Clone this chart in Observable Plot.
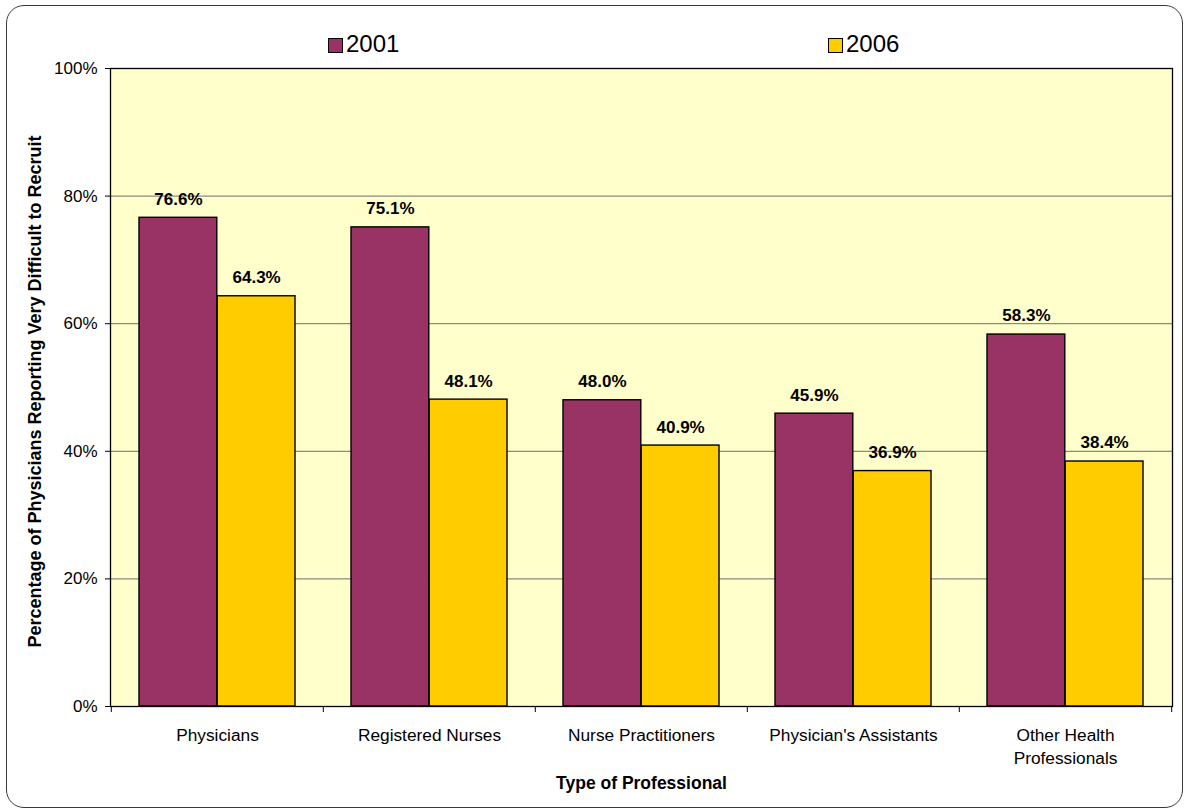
<!DOCTYPE html>
<html>
<head>
<meta charset="utf-8">
<script src="https://cdn.jsdelivr.net/npm/d3@7"></script>
<script src="https://cdn.jsdelivr.net/npm/@observablehq/plot@0.6"></script>
<style>
  html, body { margin: 0; padding: 0; background: #ffffff; }
  #wrap { position: relative; width: 1186px; height: 809px; overflow: hidden; font-family: "Liberation Sans", Arial, sans-serif; }
  #border { position: absolute; left: 6px; top: 5px; width: 1175px; height: 801px; border: 1.5px solid #3a3a3a; border-radius: 18px; pointer-events: none; }
  .sw { position: absolute; width: 13px; height: 13px; border: 1px solid #000; }
  .lt { position: absolute; font-size: 24px; line-height: 24px; color: #000; }
  #chart { position: absolute; left: 0; top: 0; }
</style>
</head>
<body>
<div id="wrap">
  <div id="border"></div>
  <div id="chart"></div>
  <div id="legend"></div>
</div>
<script>
// ---- data ----
const categories = ["Physicians", "Registered Nurses", "Nurse Practitioners", "Physician's Assistants", "Other Health\nProfessionals"];
const values2001 = [76.6, 75.1, 48.0, 45.9, 58.3];
const values2006 = [64.3, 48.1, 40.9, 36.9, 38.4];
const years = ["2001", "2006"];
const colors = ["#993366", "#FFCC00"];
const yTicks = [0, 20, 40, 60, 80, 100];
const yLabel = "Percentage of Physicians Reporting Very Difficult to Recruit";
const xLabel = "Type of Professional";

// ---- layout ----
const W = 1186, H = 809;
const mL = 110, mR = 14, mT = 68, mB = 103;
const bw = (W - mL - mR) / categories.length;
const gap = 28;
const barW = (bw - 2 * gap) / 2;

const rows2001 = categories.map((c, i) => ({category: c, value: values2001[i]}));
const rows2006 = categories.map((c, i) => ({category: c, value: values2006[i]}));
const fmt = d => d.value.toFixed(1) + "%";

const chart = Plot.plot({
  width: W,
  height: H,
  marginLeft: mL,
  marginRight: mR,
  marginTop: mT,
  marginBottom: mB,
  style: {fontFamily: "'Liberation Sans', Arial, sans-serif", fontSize: "17px", background: "transparent", overflow: "visible", color: "#000"},
  x: {type: "band", domain: categories, paddingInner: 0, paddingOuter: 0},
  y: {domain: [0, 100]},
  marks: [
    Plot.frame({fill: "#FFFFCC"}),
    Plot.ruleY(yTicks.slice(1, -1), {stroke: "#6e6e6e", strokeWidth: 1}),
    Plot.barY(rows2001, {x: "category", y: "value", fill: colors[0], stroke: "#000", strokeWidth: 1.4, insetLeft: gap, insetRight: gap + barW}),
    Plot.barY(rows2006, {x: "category", y: "value", fill: colors[1], stroke: "#000", strokeWidth: 1.4, insetLeft: gap + barW, insetRight: gap}),
    Plot.text(rows2001, {x: "category", y: "value", text: fmt, dx: -barW / 2, dy: -18.5, fontWeight: "bold", fontSize: 17}),
    Plot.text(rows2006, {x: "category", y: "value", text: fmt, dx: barW / 2, dy: -18.5, fontWeight: "bold", fontSize: 17}),
    Plot.frame({stroke: "#000", strokeWidth: 1.3}),
    Plot.axisY({ticks: yTicks, tickFormat: d => d + "%", tickSize: 5, tickPadding: 8, label: null, fontSize: 17}),
    Plot.axisX({tickSize: 0, tickPadding: 19, label: null, fontSize: 17.3, lineHeight: 1.3}),
    // category boundary ticks below the axis
    Plot.ruleX(categories, {x: d => d, dx: -bw / 2, y1: 0, y2: 0, insetBottom: -6, stroke: "#000"}),
    Plot.ruleX(categories.slice(-1), {x: d => d, dx: bw / 2, y1: 0, y2: 0, insetBottom: -6, stroke: "#000"}),
    Plot.text([xLabel], {text: d => d, frameAnchor: "bottom", dy: 82, lineAnchor: "bottom", fontWeight: "bold", fontSize: 17.5}),
    Plot.text([yLabel], {text: d => d, frameAnchor: "left", rotate: -90, dx: -82, dy: 4, textAnchor: "middle", lineAnchor: "top", fontWeight: "bold", fontSize: 18})
  ]
});
document.getElementById("chart").appendChild(chart);

// ---- legend ----
const legend = document.getElementById("legend");
const legendPos = [328, 828];
years.forEach((yr, i) => {
  const sw = document.createElement("div");
  sw.className = "sw";
  sw.style.left = legendPos[i] + "px";
  sw.style.top = "38px";
  sw.style.background = colors[i];
  legend.appendChild(sw);
  const t = document.createElement("div");
  t.className = "lt";
  t.style.left = (legendPos[i] + 18) + "px";
  t.style.top = "31.5px";
  t.textContent = yr;
  legend.appendChild(t);
});
</script>
</body>
</html>
